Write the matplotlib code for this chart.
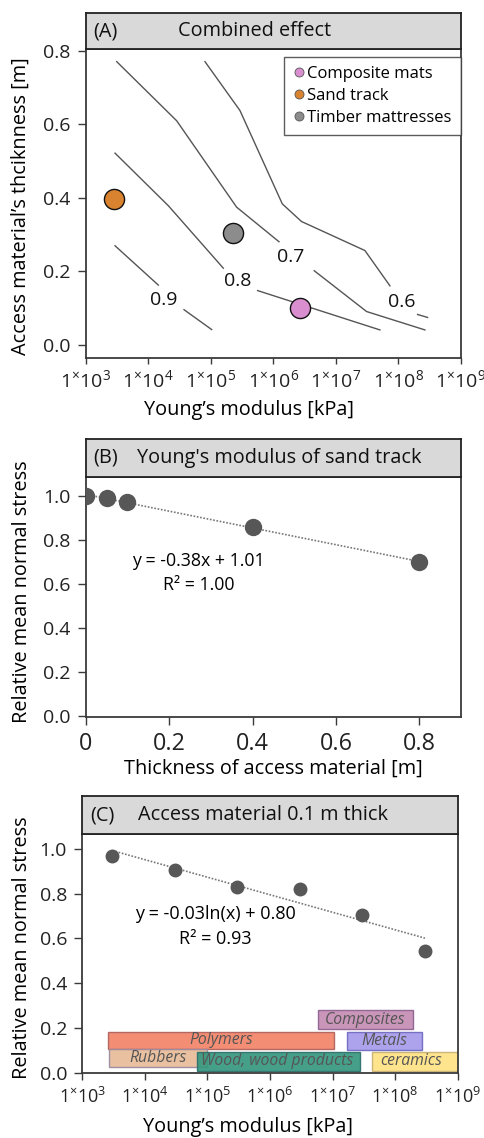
import numpy as np
import matplotlib
matplotlib.use('Agg')
import matplotlib.pyplot as plt
from matplotlib.patches import Rectangle
from matplotlib.lines import Line2D

plt.rcParams['font.family'] = ['Open Sans', 'DejaVu Sans']
plt.rcParams['mathtext.fontset'] = 'custom'
plt.rcParams['mathtext.rm'] = 'Open Sans'
plt.rcParams['mathtext.it'] = 'Open Sans:italic'

# ---------------- data ----------------
# Panel A: materials
mat_names = ['Composite mats', 'Sand track', 'Timber mattresses']
mat_E = [2.7e6, 2.8e3, 2.3e5]          # kPa
mat_t = [0.100, 0.397, 0.305]          # m
mat_colors = ['#D98ECF', '#D9822F', '#8C8C8C']

# Panel A: contour lines of relative stress (log10 E [kPa], thickness [m]), split at labels
c09_seg1_logE = [3.469, 4.161]
c09_seg1_t = [0.270, 0.163]
c09_seg2_logE = [4.572, 5.014]
c09_seg2_t = [0.096, 0.042]
c08_seg1_logE = [3.469, 4.321, 5.200]
c08_seg1_t = [0.522, 0.379, 0.209]
c08_seg2_logE = [5.749, 7.704]
c08_seg2_t = [0.148, 0.041]
c07_seg1_logE = [3.496, 4.455, 5.413, 6.090]
c07_seg1_t = [0.771, 0.610, 0.375, 0.281]
c07_seg2_logE = [6.654, 7.491, 8.423]
c07_seg2_t = [0.202, 0.091, 0.041]
c06_seg1_logE = [4.907, 5.466, 6.143, 6.450, 7.464, 7.864]
c06_seg1_t = [0.771, 0.638, 0.384, 0.336, 0.257, 0.161]
c06_seg2_logE = [8.306, 8.466]
c06_seg2_t = [0.083, 0.075]
contour_labels = ['0.9', '0.8', '0.7', '0.6']
contour_label_logE = [4.252, 5.430, 6.280, 8.060]
contour_label_t = [0.123, 0.173, 0.239, 0.118]

# Panel B: thickness vs relative stress
thick = [0.0, 0.05, 0.1, 0.4, 0.8]
stress_b = [1.00, 0.989, 0.974, 0.858, 0.700]

# Panel C: Young's modulus vs relative stress (0.1 m thick)
E_c = [3e3, 3e4, 3e5, 3e6, 3e7, 3e8]
stress_c = [0.969, 0.907, 0.831, 0.821, 0.705, 0.546]

# Panel C: material classes (E range [kPa], stress-axis band)
class_names = ['Composites', 'Polymers', 'Metals', 'Rubbers', 'Wood, wood products', 'ceramics']
class_Emin = [5.8e6, 2.6e3, 1.7e7, 2.7e3, 6.7e4, 4.2e7]
class_Emax = [1.9e8, 1.07e7, 2.7e8, 9.7e4, 2.7e7, 2e9]
class_ylo = [0.196, 0.107, 0.105, 0.029, 0.012, 0.012]
class_yhi = [0.280, 0.185, 0.185, 0.107, 0.096, 0.096]
class_text_E = [3.3e7, 1.65e5, 6.6e7, 1.6e4, 1.3e6, 1.78e8]
class_fill = ['#C58CB2', '#F38468', '#A69BEC', '#E8BB98', '#36987F', '#FFE285']
class_edge = ['#8F5F92', '#B0605A', '#6E68C0', '#9A8AA0', '#2C6F6A', '#C8AE70']

tick_exps = [3, 4, 5, 6, 7, 8, 9]

# ---------------- layout helpers ----------------
W, H = 485, 1138
fig = plt.figure(figsize=(W / 100, H / 100), dpi=100)


def rect(x0, y0, x1, y1):
    return [x0 / W, 1 - y1 / H, (x1 - x0) / W, (y1 - y0) / H]


AXC = '#3a3a3a'
LBL = 14.3
TCK = 14.0


def header(x0, y0, x1, y1, tag, title, tx):
    hx = fig.add_axes(rect(x0, y0, x1, y1))
    hx.set_facecolor('#D9D9D9')
    hx.set_xticks([])
    hx.set_yticks([])
    for s in hx.spines.values():
        s.set_color('#222222')
        s.set_linewidth(1.3)
    hx.text(0.02, 0.5, tag, transform=hx.transAxes, va='center', ha='left', fontsize=LBL, color='#111111')
    hx.text(tx, 0.5, title, transform=hx.transAxes, va='center', ha='left', fontsize=LBL, color='#111111')
    return hx


def style(ax):
    for s in ax.spines.values():
        s.set_color(AXC)
        s.set_linewidth(1.3)
    ax.tick_params(colors=AXC, labelcolor='#222222', width=1.0)


logfmt = ['$\\mathregular{1^{\\times}10^{%d}}$' % e for e in tick_exps]

# ---------------- Panel A ----------------
axA = fig.add_axes(rect(85.7, 49, 461, 358))
header(85.7, 13, 461, 49, '(A)', 'Combined effect', 0.246)
style(axA)
axA.set_xscale('log')
axA.set_xlim(1e3, 1e9)
axA.set_ylim(-0.0354, 0.8054)
segs = [(c09_seg1_logE, c09_seg1_t), (c09_seg2_logE, c09_seg2_t),
        (c08_seg1_logE, c08_seg1_t), (c08_seg2_logE, c08_seg2_t),
        (c07_seg1_logE, c07_seg1_t), (c07_seg2_logE, c07_seg2_t),
        (c06_seg1_logE, c06_seg1_t), (c06_seg2_logE, c06_seg2_t)]
for lx, ly in segs:
    axA.plot(10 ** np.array(lx), ly, color='#555555', lw=1.0, zorder=2)
for lab, lx, ly in zip(contour_labels, contour_label_logE, contour_label_t):
    axA.text(10 ** lx, ly, lab, ha='center', va='center', fontsize=14, color='#111111')
for E, t, c in zip(mat_E, mat_t, mat_colors):
    axA.plot(E, t, 'o', ms=14.5, mfc=c, mec='#111111', mew=1.0, zorder=3)
handles = [Line2D([], [], ls='none', marker='o', ms=6.5, mfc=c, mec='#555555', mew=0.6)
           for c in mat_colors]
leg = axA.legend(handles, mat_names, loc='upper right', bbox_to_anchor=(1.0, 0.975),
                 fontsize=12, frameon=True, fancybox=False, handlelength=0.7,
                 handletextpad=0.15, borderpad=0.55, labelspacing=0.36, borderaxespad=0)
leg.get_frame().set_edgecolor('#333333')
leg.get_frame().set_linewidth(1.0)
axA.set_xticks([10.0 ** e for e in tick_exps])
axA.set_xticklabels(logfmt)
axA.xaxis.set_minor_locator(matplotlib.ticker.NullLocator())
axA.set_yticks([0.0, 0.2, 0.4, 0.6, 0.8])
axA.set_yticklabels(['0.0', '0.2', '0.4', '0.6', '0.8'])
axA.tick_params(axis='y', labelsize=TCK, length=6, pad=5)
axA.tick_params(axis='x', labelsize=14, length=4, pad=4)
fig.text(21 / W, 1 - 206 / H, 'Access material\u2019s thciknness [m]', rotation=90,
         ha='center', va='center', fontsize=LBL)
fig.text(249.5 / W, 1 - 410 / H, 'Young\u2019s modulus [kPa]', ha='center', va='center', fontsize=LBL)

# ---------------- Panel B ----------------
axB = fig.add_axes(rect(85.7, 477, 461, 717))
header(85.7, 439, 461, 477, '(B)', "Young's modulus of sand track", 0.137)
style(axB)
axB.set_xlim(0, 0.9)
axB.set_ylim(-0.004, 1.086)
kb = np.polyfit(thick, stress_b, 1)
xb = np.array([thick[0], thick[-1]])
axB.plot(xb, np.polyval(kb, xb), ls=(0, (1, 1)), color='#777777', lw=1.2, zorder=2)
axB.plot(thick, stress_b, 'o', ms=11.5, color='#575757', zorder=3)
axB.text(0.27, 0.706, 'y = -0.38x + 1.01', ha='center', va='center', fontsize=12.8)
axB.text(0.27, 0.597, 'R\u00b2 = 1.00', ha='center', va='center', fontsize=12.8)
axB.set_xticks([0, 0.2, 0.4, 0.6, 0.8])
axB.set_xticklabels(['0', '0.2', '0.4', '0.6', '0.8'])
axB.set_yticks([0.0, 0.2, 0.4, 0.6, 0.8, 1.0])
axB.set_yticklabels(['0.0', '0.2', '0.4', '0.6', '0.8', '1.0'])
axB.tick_params(axis='y', labelsize=TCK, length=6, pad=5)
axB.tick_params(axis='x', labelsize=16.8, length=6, pad=5)
fig.text(22 / W, 1 - 592 / H, 'Relative mean normal stress', rotation=90,
         ha='center', va='center', fontsize=LBL)
fig.text(273 / W, 1 - 769 / H, 'Thickness of access material [m]', ha='center', va='center', fontsize=LBL)

# ---------------- Panel C ----------------
axC = fig.add_axes(rect(82.3, 834, 457.7, 1073.3))
header(82.3, 796, 457.7, 834, '(C)', 'Access material 0.1 m thick', 0.148)
style(axC)
axC.set_xscale('log')
axC.set_xlim(1e3, 1e9)
axC.set_ylim(0, 1.065)
for i in range(len(class_names)):
    axC.add_patch(Rectangle((class_Emin[i], class_ylo[i]), class_Emax[i] - class_Emin[i],
                            class_yhi[i] - class_ylo[i], facecolor=class_fill[i],
                            edgecolor=class_edge[i], lw=1.0, alpha=0.92, zorder=2))
    axC.text(class_text_E[i], (class_ylo[i] + class_yhi[i]) / 2, class_names[i],
             ha='center', va='center', fontsize=11.3, style='italic', color='#555555', zorder=4)
lnE = np.log(np.array(E_c) / 1e6)
kc = np.polyfit(lnE, stress_c, 1)
xc = np.array([E_c[0], E_c[-1]])
axC.plot(xc, np.polyval(kc, np.log(xc / 1e6)), ls=(0, (1, 1)), color='#777777', lw=1.2, zorder=3)
axC.plot(E_c, stress_c, 'o', ms=9, color='#575757', zorder=5)
axC.text(10 ** 5.12, 0.708, 'y = -0.03ln(x) + 0.80', ha='center', va='center', fontsize=13)
axC.text(10 ** 5.12, 0.598, 'R\u00b2 = 0.93', ha='center', va='center', fontsize=13)
axC.set_xticks([10.0 ** e for e in tick_exps])
axC.set_xticklabels(logfmt)
axC.xaxis.set_minor_locator(matplotlib.ticker.NullLocator())
axC.set_yticks([0.0, 0.2, 0.4, 0.6, 0.8, 1.0])
axC.set_yticklabels(['0.0', '0.2', '0.4', '0.6', '0.8', '1.0'])
axC.tick_params(axis='y', labelsize=TCK, length=6, pad=5)
axC.tick_params(axis='x', labelsize=13, length=5, pad=5)
fig.text(22.5 / W, 1 - 948 / H, 'Relative mean normal stress', rotation=90,
         ha='center', va='center', fontsize=LBL)
fig.text(248.5 / W, 1 - 1127 / H, 'Young\u2019s modulus [kPa]', ha='center', va='center', fontsize=LBL)

fig.savefig('out.png', dpi=100, facecolor='white')
